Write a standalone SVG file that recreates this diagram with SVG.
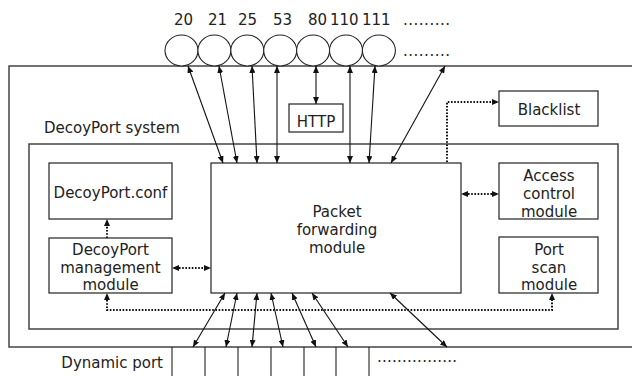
<svg xmlns="http://www.w3.org/2000/svg" width="632" height="376" viewBox="0 0 632 376">
  <defs>
    <marker id="ah" markerWidth="8" markerHeight="6" refX="7" refY="3" orient="auto-start-reverse" markerUnits="userSpaceOnUse">
      <path d="M0,0 L7,3 L0,6 z" fill="#111"/>
    </marker>
  </defs>
  <style>
    .box { fill: #fff; stroke: #222; stroke-width: 1.2; }
    .frame { fill: none; stroke: #444; stroke-width: 1.5; }
    .port { fill: #fff; stroke: #222; stroke-width: 1.1; }
    .t { font-family: "DejaVu Sans", "Liberation Sans", sans-serif; font-size: 15px; fill: #222; }
    .c { text-anchor: middle; }
    .link { fill: none; stroke: #111; stroke-width: 1.1; marker-start: url(#ah); marker-end: url(#ah); }
    .dot { fill: none; stroke: #111; stroke-width: 2; stroke-dasharray: 1.6 1.6; }
    .cell { stroke: #222; stroke-width: 1.1; }
  </style>

  <!-- host frame (open to the right) and inner system boundary -->
  <g id="host">
    <path class="frame" d="M632,66 H9 V347 H632"/>
  </g>
  <g id="decoyport-system">
    <rect class="frame" x="29" y="144" width="589" height="185"/>
    <text class="t" x="44" y="133">DecoyPort system</text>
  </g>

  <!-- well-known ports -->
  <g id="ports">
    <ellipse class="port" cx="181.5" cy="50.5" rx="16.5" ry="15.5"/>
    <ellipse class="port" cx="214.4" cy="50.5" rx="16.5" ry="15.5"/>
    <ellipse class="port" cx="247.3" cy="50.5" rx="16.5" ry="15.5"/>
    <ellipse class="port" cx="280.2" cy="50.5" rx="16.5" ry="15.5"/>
    <ellipse class="port" cx="313.1" cy="50.5" rx="16.5" ry="15.5"/>
    <ellipse class="port" cx="346" cy="50.5" rx="16.5" ry="15.5"/>
    <ellipse class="port" cx="378.9" cy="50.5" rx="16.5" ry="15.5"/>
    <text class="t" x="174" y="25">20</text>
    <text class="t" x="208" y="25">21</text>
    <text class="t" x="238" y="25">25</text>
    <text class="t" x="273" y="25">53</text>
    <text class="t" x="308" y="25">80</text>
    <text class="t" x="330" y="25">110</text>
    <text class="t" x="362" y="25">111</text>
    <text class="t" x="403" y="25" textLength="47">.........</text>
    <text class="t" x="403" y="56" textLength="47">.........</text>
  </g>

  <g id="http">
    <rect class="box" x="289" y="104" width="54" height="28"/>
    <text class="t c" x="316" y="127">HTTP</text>
  </g>

  <g id="blacklist">
    <rect class="box" x="499" y="91" width="99" height="35"/>
    <text class="t c" x="549" y="115">Blacklist</text>
  </g>

  <g id="packet-forwarding">
    <rect class="box" x="211" y="163" width="250" height="130"/>
    <text class="t c" x="337" y="217">Packet</text>
    <text class="t c" x="337" y="235">forwarding</text>
    <text class="t c" x="337" y="253">module</text>
  </g>

  <g id="access-control">
    <rect class="box" x="499" y="163" width="99" height="56"/>
    <text class="t c" x="549" y="181">Access</text>
    <text class="t c" x="549" y="199">control</text>
    <text class="t c" x="549" y="217">module</text>
  </g>

  <g id="port-scan">
    <rect class="box" x="499" y="237" width="99" height="56"/>
    <text class="t c" x="549" y="255">Port</text>
    <text class="t c" x="549" y="273">scan</text>
    <text class="t c" x="549" y="290">module</text>
  </g>

  <g id="decoyport-conf">
    <rect class="box" x="49" y="163" width="123" height="56"/>
    <text class="t c" x="110.5" y="198">DecoyPort.conf</text>
  </g>

  <g id="decoyport-management">
    <rect class="box" x="49" y="238" width="123" height="55"/>
    <text class="t c" x="110.5" y="255">DecoyPort</text>
    <text class="t c" x="110.5" y="273">management</text>
    <text class="t c" x="110.5" y="290">module</text>
  </g>

  <!-- dynamic port slots -->
  <g id="dynamic-port">
    <text class="t" x="163" y="368" text-anchor="end">Dynamic port</text>
    <line class="cell" x1="172" y1="347" x2="172" y2="376"/>
    <line class="cell" x1="205" y1="347" x2="205" y2="376"/>
    <line class="cell" x1="238" y1="347" x2="238" y2="376"/>
    <line class="cell" x1="271" y1="347" x2="271" y2="376"/>
    <line class="cell" x1="304" y1="347" x2="304" y2="376"/>
    <line class="cell" x1="336" y1="347" x2="336" y2="376"/>
    <line class="cell" x1="369" y1="347" x2="369" y2="376"/>
    <text class="t" x="377" y="362" textLength="80">................</text>
  </g>

  <g id="connectors">
    <!-- well-known ports to packet forwarding -->
    <line class="link" x1="188" y1="66" x2="223" y2="163"/>
    <line class="link" x1="219" y1="66" x2="237" y2="163"/>
    <line class="link" x1="252" y1="66" x2="257" y2="163"/>
    <line class="link" x1="277" y1="66" x2="277" y2="163"/>
    <line class="link" x1="316" y1="66" x2="316" y2="104"/>
    <line class="link" x1="350" y1="66" x2="350" y2="163"/>
    <line class="link" x1="375" y1="66" x2="369" y2="163"/>
    <line class="link" x1="445" y1="66" x2="391" y2="163"/>
    <!-- packet forwarding to dynamic ports -->
    <line class="link" x1="225" y1="293" x2="193" y2="347"/>
    <line class="link" x1="237" y1="293" x2="226" y2="347"/>
    <line class="link" x1="257" y1="293" x2="252" y2="347"/>
    <line class="link" x1="271" y1="293" x2="283" y2="347"/>
    <line class="link" x1="292" y1="293" x2="316" y2="347"/>
    <line class="link" x1="312" y1="293" x2="348" y2="347"/>
    <line class="link" x1="390" y1="293" x2="447" y2="347"/>
    <!-- control flows -->
    <path class="dot" d="M447,162 V102 H493"/>
    <path d="M492,99 L499,102 L492,105 z" fill="#111"/>
    <path class="dot" d="M468,194 H492"/>
    <path d="M468,191 L461,194 L468,197 z M492,191 L499,194 L492,197 z" fill="#111"/>
    <path class="dot" d="M179,268 H204"/>
    <path d="M179,265 L172,268 L179,271 z M204,265 L211,268 L204,271 z" fill="#111"/>
    <path class="dot" d="M107,238 V226"/>
    <path d="M104,226 L107,219 L110,226 z" fill="#111"/>
    <path class="dot" d="M107,300 V310 H552 V300"/>
    <path d="M104,300 L107,293 L110,300 z M549,300 L552,293 L555,300 z" fill="#111"/>
  </g>
</svg>
